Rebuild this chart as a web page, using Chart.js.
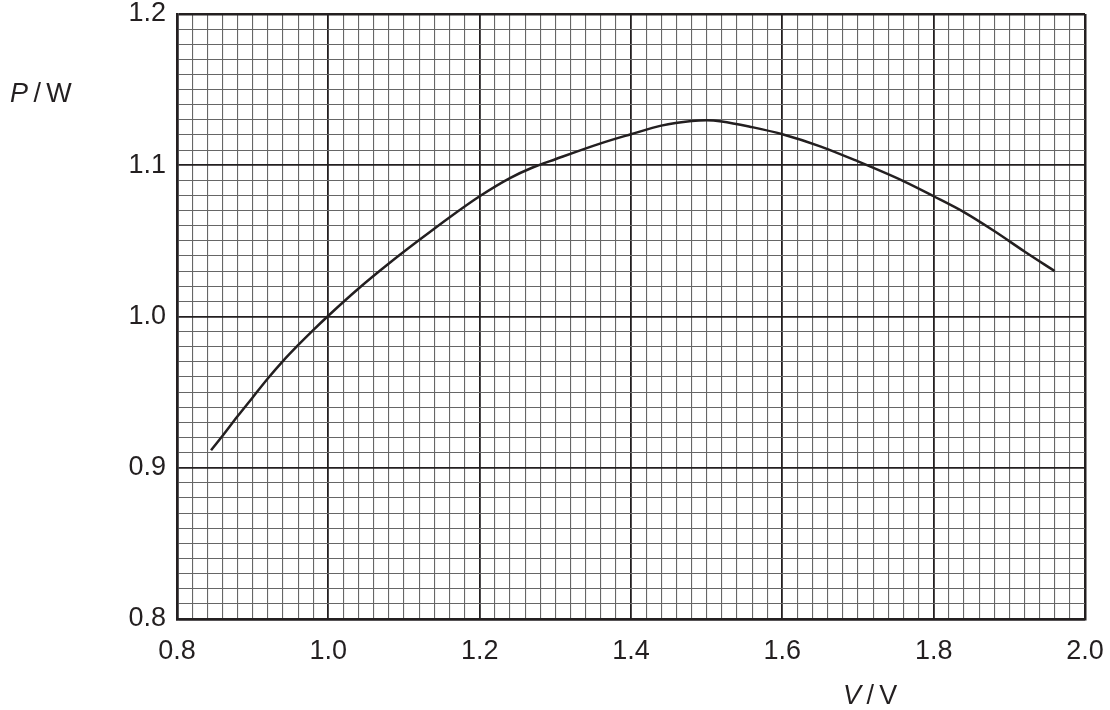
<!DOCTYPE html>
<html>
<head>
<meta charset="utf-8">
<script src="https://cdn.jsdelivr.net/npm/chart.js@4"></script>
<style>
  html, body { margin: 0; padding: 0; background: #fff; }
  #wrap { position: relative; width: 1110px; height: 710px; }
  canvas { position: absolute; left: 0; top: 0; }
  .ttl { position: absolute; font-family: "Liberation Sans", Arial, sans-serif; font-size: 27px; line-height: 1; color: #231f20; white-space: nowrap; }
</style>
</head>
<body>
<div id="wrap">
  <canvas id="c" width="1110" height="710"></canvas>
  <div class="ttl" style="left:10px; top:80px;"><i>P</i>&#8201;/&#8201;W</div>
  <div class="ttl" style="left:843px; top:682px;"><i>V</i>&#8201;/&#8201;V</div>
</div>
<script>
// Data
const voltage = [0.845, 0.86, 0.88, 0.90, 0.92, 0.94, 0.96, 0.98, 1.00, 1.04, 1.08, 1.12, 1.16, 1.20, 1.24, 1.27, 1.30, 1.36, 1.40, 1.44, 1.48, 1.50, 1.52, 1.56, 1.60, 1.65, 1.70, 1.76, 1.80, 1.84, 1.88, 1.92, 1.96];
const power   = [0.9116, 0.921, 0.934, 0.9465, 0.959, 0.9705, 0.981, 0.991, 1.0005, 1.0185, 1.035, 1.0505, 1.0655, 1.0795, 1.0915, 1.0985, 1.104, 1.1145, 1.1205, 1.1262, 1.1293, 1.1298, 1.129, 1.1252, 1.1205, 1.1125, 1.1025, 1.0895, 1.0795, 1.069, 1.0565, 1.043, 1.030];

const xMin = 0.8, xMax = 2.0, xStep = 0.02, xMajor = 0.2;
const yMin = 0.8, yMax = 1.2, yStep = 0.01, yMajor = 0.1;
const xTickLabels = ['0.8', '1.0', '1.2', '1.4', '1.6', '1.8', '2.0'];
const yTickLabels = ['0.8', '0.9', '1.0', '1.1', '1.2'];

const points = voltage.map((v, i) => ({ x: v, y: power[i] }));

function isMultiple(v, base, origin) {
  const k = (v - origin) / base;
  return Math.abs(k - Math.round(k)) < 1e-6;
}
function isEdge(v, lo, hi) {
  return Math.abs(v - lo) < 1e-6 || Math.abs(v - hi) < 1e-6;
}

const INK = '#231f20';
const MINOR = '#666666';
const FONT = { family: '"Liberation Sans", Arial, sans-serif', size: 27 };

new Chart(document.getElementById('c'), {
  type: 'scatter',
  data: {
    datasets: [{
      data: points,
      showLine: true,
      borderColor: INK,
      borderWidth: 2.5,
      pointRadius: 0,
      cubicInterpolationMode: 'monotone',
      fill: false
    }]
  },
  options: {
    responsive: false,
    animation: false,
    events: [],
    layout: { padding: { left: 0, top: 14, right: 25, bottom: 0 } },
    plugins: { legend: { display: false }, tooltip: { enabled: false } },
    scales: {
      x: {
        type: 'linear',
        min: xMin, max: xMax,
        afterFit: s => { s.height = 91; s.paddingLeft = 0; s.paddingRight = 0; },
        border: { display: true, color: INK, width: 2.5 },
        grid: {
          drawTicks: false,
          color: c => isMultiple(c.tick.value, xMajor, xMin) ? INK : MINOR,
          lineWidth: c => isEdge(c.tick.value, xMin, xMax) ? 2.5 : (isMultiple(c.tick.value, xMajor, xMin) ? 1.8 : 1.1)
        },
        ticks: {
          stepSize: xStep,
          maxTicksLimit: 1000,
          autoSkip: false,
          maxRotation: 0,
          padding: 16,
          color: INK,
          font: FONT,
          callback: function (v) {
            if (!isMultiple(v, xMajor, xMin)) return '';
            const idx = Math.round((v - xMin) / xMajor);
            return xTickLabels[idx];
          }
        }
      },
      y: {
        type: 'linear',
        min: yMin, max: yMax,
        afterFit: s => { s.width = 177; s.paddingTop = 0; s.paddingBottom = 0; },
        border: { display: true, color: INK, width: 2.5 },
        grid: {
          drawTicks: false,
          color: c => isMultiple(c.tick.value, yMajor, yMin) ? INK : MINOR,
          lineWidth: c => isEdge(c.tick.value, yMin, yMax) ? 2.5 : (isMultiple(c.tick.value, yMajor, yMin) ? 1.8 : 1.1)
        },
        ticks: {
          stepSize: yStep,
          maxTicksLimit: 1000,
          autoSkip: false,
          padding: 11,
          color: INK,
          font: FONT,
          callback: function (v) {
            if (!isMultiple(v, yMajor, yMin)) return '';
            const idx = Math.round((v - yMin) / yMajor);
            return yTickLabels[idx];
          }
        }
      }
    }
  }
});
</script>
</body>
</html>
